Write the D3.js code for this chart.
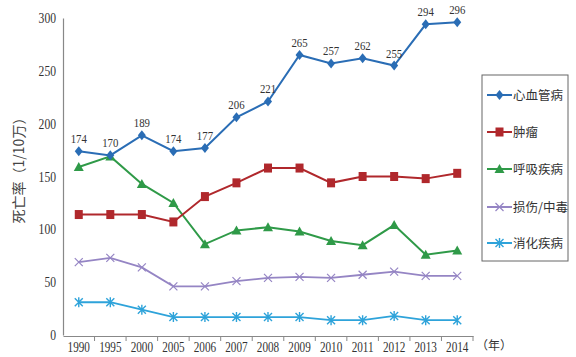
<!DOCTYPE html>
<html><head><meta charset="utf-8">
<script src="https://cdn.jsdelivr.net/npm/d3@7"></script>
<style>body{margin:0;background:#fff}svg{display:block}</style>
</head><body><svg id="c" width="576" height="357"></svg>
<script>
const years = ["1990","1995","2000","2005","2006","2007","2008","2009","2010","2011","2012","2013","2014"];
const cardio = [174,170,189,174,177,206,221,265,257,262,255,294,296];
const tumor = [114,114,114,107,131,144,158,158,144,150,150,148,153];
const respiratory = [159,169,143,125,86,99,102,98,89,85,104,76,80];
const injury = [69,73,64,46,46,51,54,55,54,57,60,56,56];
const digestive = [31,31,24,17,17,17,17,17,14,14,18,14,14];
const yTicks = [0,50,100,150,200,250,300];
const seriesNames = ["心血管病","肿瘤","呼吸疾病","损伤/中毒","消化疾病"];
const seriesColors = ["#2a6db5","#b0282c","#2f9a48","#9585c4","#2ea3da"];
const seriesMarkers = ["diamond","square","triangle","x","asterisk"];
const seriesData = [cardio,tumor,respiratory,injury,digestive];

const svg = d3.select("#c");
const x = d3.scaleBand().domain(years).range([63,473]);
const y = d3.scaleLinear().domain([0,300]).range([335,18]);
const serif = "'Liberation Serif','DejaVu Serif',serif";
const cjk = "'Noto Sans CJK SC',sans-serif";
const SX = 0.8;

// condensed text helper
function condensed(sel, fx, fy, anchor, size){
  sel.attr("x",0).attr("y",0).attr("dy",null).attr("text-anchor",anchor)
    .attr("font-family",serif).attr("font-size",size).attr("fill","#333")
    .attr("transform",(d,i)=>`translate(${fx(d,i)},${fy(d,i)}) scale(${SX},1)`);
}

// y axis
const ya = svg.append("g").attr("transform","translate(63,0)").call(d3.axisLeft(y).tickValues(yTicks).tickSize(0).tickFormat(()=>""));
ya.select(".domain").attr("stroke","#888").attr("stroke-width",1.2);
svg.append("g").selectAll("text").data(yTicks).enter().append("text").text(d=>d)
  .call(condensed, ()=>56, d=>y(d)+5, "end", 14.5);

// x axis
const xa = svg.append("g").attr("transform","translate(0,336)").call(d3.axisBottom(x).tickSize(0).tickFormat(()=>""));
xa.select(".domain").attr("stroke","#888").attr("stroke-width",1.2);
xa.selectAll(".bt").data(years).enter().append("line")
  .attr("x1",d=>x(d)+x.bandwidth()).attr("x2",d=>x(d)+x.bandwidth())
  .attr("y1",0).attr("y2",5).attr("stroke","#888");
svg.append("g").selectAll("text").data(years).enter().append("text").text(d=>d)
  .call(condensed, d=>x(d)+x.bandwidth()/2, ()=>352, "middle", 14);

svg.append("text").attr("x",476).attr("y",350).attr("font-family",cjk).attr("font-size",12).attr("fill","#333").text("（年）");
svg.append("text").attr("transform","translate(24,167) rotate(-90)").attr("text-anchor","middle")
  .attr("font-family",cjk).attr("font-size",14).attr("fill","#444").text("死亡率（1/10万）");

function marker(g,type,color,cx,cy){
  if(type==="diamond"){
    g.append("path").attr("d",`M${cx},${cy-5}L${cx+4},${cy}L${cx},${cy+5}L${cx-4},${cy}Z`).attr("fill",color);
  }else if(type==="square"){
    g.append("rect").attr("x",cx-4).attr("y",cy-4.5).attr("width",8).attr("height",9).attr("fill",color);
  }else if(type==="triangle"){
    g.append("path").attr("d",`M${cx},${cy-5}L${cx+5},${cy+4}L${cx-5},${cy+4}Z`).attr("fill",color);
  }else if(type==="x"){
    g.append("path").attr("d",`M${cx-4},${cy-4}L${cx+4},${cy+4}M${cx-4},${cy+4}L${cx+4},${cy-4}`).attr("stroke",color).attr("stroke-width",1.2);
  }else{
    g.append("path").attr("d",`M${cx-4},${cy-4}L${cx+4},${cy+4}M${cx-4},${cy+4}L${cx+4},${cy-4}M${cx},${cy-5}L${cx},${cy+5}`).attr("stroke",color).attr("stroke-width",1.4);
  }
}

const cx = d=>x(d)+x.bandwidth()/2;
const line = d3.line().x((d,i)=>cx(years[i])).y(d=>y(d));
for(let s=seriesData.length-1;s>=0;s--){
  const g = svg.append("g");
  g.append("path").datum(seriesData[s]).attr("d",line).attr("fill","none")
    .attr("stroke",seriesColors[s]).attr("stroke-width",s===3||s===4?1.8:2);
  seriesData[s].forEach((v,i)=>marker(g,seriesMarkers[s],seriesColors[s],cx(years[i]),y(v)));
}
// labels on cardio
svg.append("g").selectAll("text").data(cardio).enter().append("text").text(d=>d)
  .call(condensed, (d,i)=>cx(years[i]), d=>y(d)-8, "middle", 13.5);

// legend
const lg = svg.append("g");
lg.append("rect").attr("x",482).attr("y",75).attr("width",86).attr("height",186)
  .attr("fill","#fff").attr("stroke","#666").attr("stroke-width",1);
const ly = [95,132,169,207,243];
seriesNames.forEach((n,i)=>{
  lg.append("line").attr("x1",487).attr("x2",512).attr("y1",ly[i]).attr("y2",ly[i])
    .attr("stroke",seriesColors[i]).attr("stroke-width",2);
  marker(lg,seriesMarkers[i],seriesColors[i],499.5,ly[i]);
  lg.append("text").attr("x",513).attr("y",ly[i]+4.5).attr("font-family",cjk).attr("font-size",12.5)
    .attr("fill","#333").text(n);
});
</script></body></html>
